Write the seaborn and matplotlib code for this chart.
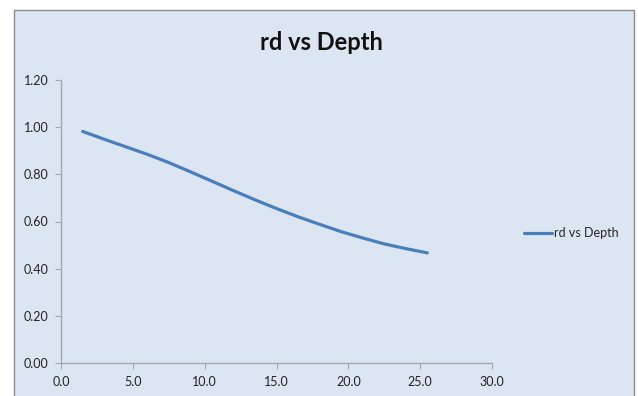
import matplotlib
matplotlib.use("Agg")
import matplotlib.pyplot as plt
import seaborn as sns
import pandas as pd
from matplotlib.patches import Rectangle

depth = [1.5, 3.0, 4.5, 6.0, 7.5, 9.0, 10.5, 12.0, 13.5, 15.0, 16.5, 18.0, 19.5, 21.0, 22.5, 24.0, 25.5]
rd = [0.982, 0.949, 0.917, 0.885, 0.850, 0.811, 0.771, 0.731, 0.692, 0.655, 0.620, 0.588, 0.557, 0.530, 0.505, 0.485, 0.467]
series_name = "rd vs Depth"
title = "rd vs Depth"
xticks = [0, 5, 10, 15, 20, 25, 30]
yticks = [0.0, 0.2, 0.4, 0.6, 0.8, 1.0, 1.2]

df = pd.DataFrame({"Depth": depth, "rd": rd, "series": series_name})

sns.set_theme(style="white")
plt.rcParams['font.family'] = ['Lato', 'DejaVu Sans']

W, H = 638, 396
fig = plt.figure(figsize=(W / 100, H / 100), dpi=100)
fig.patch.set_facecolor("white")
bg = "#DCE6F2"
fig.patches.append(Rectangle((14 / W, -0.05), (634 - 14) / W, (H - 10) / H + 0.05,
                             transform=fig.transFigure, facecolor=bg,
                             edgecolor="#8C8C8C", linewidth=1.0, zorder=-10))

ax = fig.add_axes([61 / W, (H - 363) / H, (492 - 61) / W, (363 - 80) / H])
ax.set_facecolor("none")
sns.lineplot(data=df, x="Depth", y="rd", hue="series", palette=["#4A7EBB"],
             linewidth=2.3, ax=ax, legend=True)
for ln in ax.lines:
    ln.set_solid_capstyle("round")
    ln.set_solid_joinstyle("round")

ax.set_xlim(0, 30)
ax.set_ylim(0, 1.2)
ax.set_xticks(xticks)
ax.set_yticks(yticks)
ax.set_xticklabels([f"{v:.1f}" for v in xticks])
ax.set_yticklabels([f"{v:.2f}" for v in yticks])
ax.set_xlabel("")
ax.set_ylabel("")
for s in ["top", "right"]:
    ax.spines[s].set_visible(False)
for s in ["left", "bottom"]:
    ax.spines[s].set_color("#A6A6A6")
    ax.spines[s].set_linewidth(1.0)
ax.tick_params(axis="both", which="major", length=4, width=0.8, color="#A6A6A6",
               labelsize=9, labelcolor="#222222", direction="out", pad=5,
               left=True, bottom=True)

handles, labels = ax.get_legend_handles_labels()
ax.legend(handles, labels, loc="center left", bbox_to_anchor=(518 / W, (H - 233) / H),
          bbox_transform=fig.transFigure, frameon=False, fontsize=9,
          handlelength=2.2, handletextpad=0.2, borderpad=0)

fig.text(321.5 / W, (H - 43) / H, title, ha="center", va="center",
         fontsize=17, fontweight="bold", color="#111111")

fig.savefig("out.png", dpi=100)
